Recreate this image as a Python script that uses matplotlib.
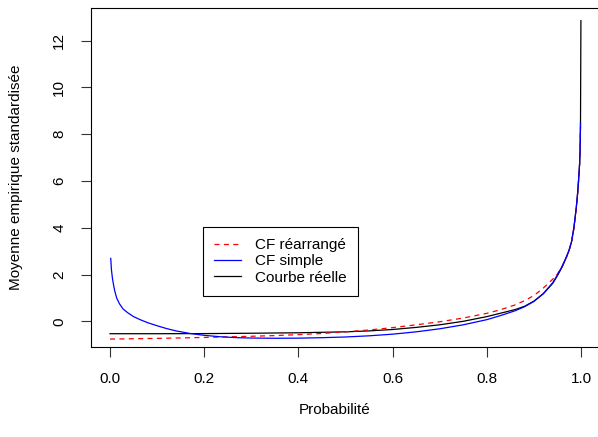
import matplotlib
matplotlib.use("Agg")
import matplotlib.pyplot as plt

plt.rcParams["font.family"] = ["Liberation Sans", "DejaVu Sans"]

# courbe reelle
p_reelle = [0.0, 0.1, 0.2, 0.3, 0.4, 0.45, 0.5, 0.55, 0.6, 0.65, 0.7, 0.75, 0.8,
            0.83, 0.86, 0.88, 0.9, 0.92, 0.94, 0.95, 0.96, 0.97, 0.975, 0.98,
            0.985, 0.99, 0.993, 0.995, 0.997, 0.998, 0.999, 0.9999]
v_reelle = [-0.53, -0.53, -0.525, -0.51, -0.49, -0.47, -0.45, -0.41, -0.35, -0.26,
            -0.15, 0.0, 0.2, 0.35, 0.5, 0.64, 0.86, 1.18, 1.62, 1.95, 2.32, 2.78,
            3.05, 3.4, 4.0, 4.85, 5.5, 6.05, 6.7, 7.2, 8.3, 12.85]

# CF simple
p_simple = [0.0015, 0.003, 0.005, 0.0075, 0.01, 0.014, 0.02, 0.028, 0.038, 0.05,
            0.064, 0.08, 0.1, 0.12, 0.14, 0.17, 0.2, 0.234, 0.27, 0.3, 0.35, 0.4,
            0.45, 0.5, 0.55, 0.6, 0.65, 0.7, 0.75, 0.8, 0.83, 0.86, 0.88, 0.9,
            0.92, 0.94, 0.95, 0.96, 0.97, 0.975, 0.98, 0.985, 0.99, 0.993, 0.995,
            0.997, 0.998, 0.999]
v_simple = [2.69, 2.2, 1.85, 1.55, 1.3, 1.0, 0.75, 0.52, 0.36, 0.2,
            0.07, -0.06, -0.19, -0.31, -0.41, -0.52, -0.6, -0.66, -0.7, -0.715,
            -0.725, -0.72, -0.7, -0.67, -0.62, -0.55, -0.45, -0.32, -0.15, 0.07,
            0.25, 0.45, 0.62, 0.85, 1.18, 1.65, 1.98, 2.35, 2.8, 3.05, 3.4, 4.0,
            4.85, 5.5, 6.05, 6.7, 7.2, 8.47]

# CF rearrange
p_rearr = [0.0, 0.1, 0.2, 0.3, 0.35, 0.4, 0.45, 0.5, 0.55, 0.6, 0.65, 0.7, 0.75,
           0.8, 0.83, 0.86, 0.88, 0.9, 0.92, 0.94, 0.95, 0.96, 0.97, 0.975, 0.98,
           0.985, 0.99, 0.993, 0.995, 0.997, 0.998, 0.999]
v_rearr = [-0.76, -0.73, -0.69, -0.64, -0.61, -0.57, -0.52, -0.45, -0.37, -0.27,
           -0.15, -0.02, 0.14, 0.34, 0.5, 0.7, 0.88, 1.1, 1.42, 1.8, 2.02, 2.35,
           2.78, 3.05, 3.4, 3.95, 4.8, 5.45, 6.0, 6.65, 7.15, 8.3]

x_ticks = [0.0, 0.2, 0.4, 0.6, 0.8, 1.0]
y_ticks = [0, 2, 4, 6, 8, 10, 12]

fig = plt.figure(figsize=(5.98, 4.37), dpi=100)
ax = fig.add_axes([91.2 / 598, 90 / 437, 508.6 / 598, 339 / 437])

ax.plot(p_reelle, v_reelle, color="black", lw=0.9, label="Courbe réelle")
ax.plot(p_rearr, v_rearr, color="red", lw=0.9, ls=(0, (4, 3.5)), label="CF réarrangé")
ax.plot(p_simple, v_simple, color="blue", lw=0.9, label="CF simple")

ax.set_xlim(-0.04, 1.04)
ax.set_ylim(-1.098, 13.39)
ax.set_xticks(x_ticks)
ax.set_xticklabels([f"{t:.1f}" for t in x_ticks])
ax.set_yticks(y_ticks)
ax.set_yticklabels([str(t) for t in y_ticks], rotation=90, va="center")
ax.tick_params(labelsize=11, length=7, width=0.8, color="#333333")
ax.tick_params(axis="x", pad=11)
ax.tick_params(axis="y", pad=11)
for s in ax.spines.values():
    s.set_linewidth(0.8)

fig.text(335 / 598, 1 - 410 / 437, "Probabilité", fontsize=11, ha="center", va="center")
fig.text(16 / 598, 1 - 177 / 437, "Moyenne empirique standardisée", fontsize=11,
         rotation=90, ha="center", va="center")

h, l = ax.get_legend_handles_labels()
order = [1, 2, 0]
leg = ax.legend([h[i] for i in order], [l[i] for i in order],
                loc="upper left", bbox_to_anchor=(202.7 / 598, 1 - 226.7 / 437),
                bbox_transform=fig.transFigure, borderaxespad=0, fontsize=11,
                handlelength=1.75, handletextpad=0.9, labelspacing=0.15,
                borderpad=0.75, fancybox=False, framealpha=1, edgecolor="black")
leg.get_frame().set_linewidth(0.8)

fig.savefig("out.png", dpi=100)
